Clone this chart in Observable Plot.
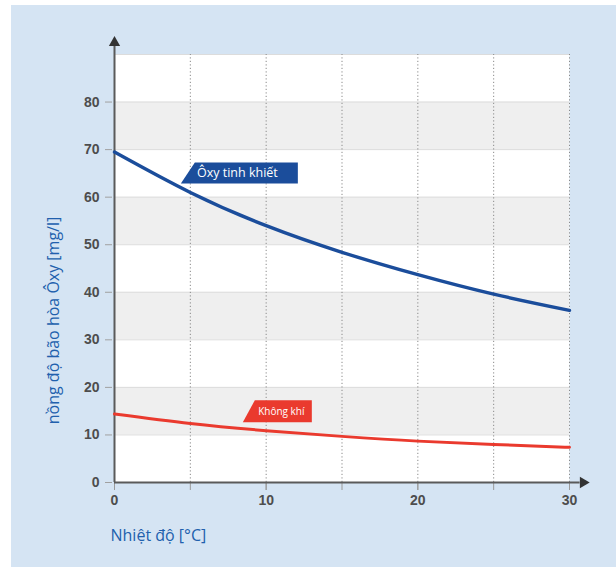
<!DOCTYPE html>
<html><head><meta charset="utf-8">
<script src="https://cdn.jsdelivr.net/npm/d3@7"></script>
<script src="https://cdn.jsdelivr.net/npm/@observablehq/plot@0.6"></script>
<style>
body{margin:0;background:#fff;}
#panel{position:absolute;left:11px;top:5px;width:605px;height:562px;background:#d5e4f3;}
#panel svg{display:block;}
</style></head><body><div id="panel"></div>
<script>
// ---- data ----
const temperature = [0, 5, 10, 15, 20, 25, 30];
const pureOxygen  = [69.5, 61.0, 54.0, 48.4, 43.7, 39.6, 36.2];
const air         = [14.4, 12.4, 10.9, 9.7, 8.7, 8.0, 7.4];
const seriesNames = ["Ôxy tinh khiết", "Không khí"];
const xTicks  = [0, 5, 10, 15, 20, 25, 30];
const xLabels = [0, 10, 20, 30];
const yTicks  = [0, 10, 20, 30, 40, 50, 60, 70, 80];
const gridY   = [10, 20, 30, 40, 50, 60, 70, 80, 90];
const bandLow  = [10, 30, 50, 70];
const bandHigh = [20, 40, 60, 80];
const labelX = [8.1, 11.0];
const labelY = [65.0, 14.9];
const xTitle = "Nhiệt độ [°C]";
const yTitle = "nồng độ bão hòa Ôxy [mg/l]";

// ---- styles ----
const blue = "#1b4d9b", red = "#ea3a2e", axisColor = "#5a5a5a";
const seriesColors = [blue, red];
const bannerShape = [
  {top: -42, tip: -56, right: 61, h: 10.5, size: 12.5},
  {top: -26, tip: -38, right: 31, h: 11, size: 10}
];

const rows = temperature.flatMap((t, i) => [
  {t, v: pureOxygen[i], s: seriesNames[0]},
  {t, v: air[i], s: seriesNames[1]}
]);
const bands = bandLow.map((lo, i) => ({lo, hi: bandHigh[i]}));
const labels = seriesNames.map((text, i) => ({text, x: labelX[i], y: labelY[i], i}));

function bannerMark(index, scales) {
  const g = d3.create("svg:g");
  labels.forEach((d, i) => {
    const cx = scales.x(d.x), cy = scales.y(d.y), s = bannerShape[i];
    g.append("path")
      .attr("d", `M${cx + s.top},${cy - s.h}L${cx + s.right},${cy - s.h}L${cx + s.right},${cy + s.h}L${cx + s.tip},${cy + s.h}Z`)
      .attr("fill", seriesColors[i]);
  });
  return g.node();
}

const tickFont = {fontSize: 14, fontWeight: "bold", fontFamily: "Liberation Sans, Arial, sans-serif"};

const chart = Plot.plot({
  width: 605,
  height: 562,
  marginLeft: 103,
  marginRight: 47,
  marginTop: 49,
  marginBottom: 85,
  style: {background: "transparent", overflow: "visible", fontFamily: "Liberation Sans, Arial, sans-serif"},
  x: {domain: [0, 30]},
  y: {domain: [0, 90]},
  marks: [
    Plot.frame({fill: "white", stroke: null}),
    Plot.rectY(bands, {x1: 0, x2: 30, y1: "lo", y2: "hi", fill: "#efefef"}),
    Plot.ruleY(gridY, {x1: 0, x2: 30, stroke: "#dcdcdc", strokeWidth: 1}),
    Plot.ruleX(xTicks.filter(d => d > 0), {y1: 0, y2: 90, stroke: "#8a8a8a", strokeWidth: 1, strokeDasharray: "1.2,2.3"}),
    Plot.axisY(yTicks, {tickSize: 7, tickPadding: 6, dx: -2, stroke: "#a0a0a0", fill: "#4d4d4d", ...tickFont, label: null}),
    Plot.axisX(xTicks, {tickSize: 8, tickFormat: () => "", stroke: "#9a9a9a", label: null}),
    Plot.axisX(xLabels, {tickSize: 8, tickPadding: 5, stroke: "#9a9a9a", fill: "#4d4d4d", ...tickFont, label: null}),
    Plot.ruleX([0], {y1: 0, y2: 92.2, stroke: axisColor, strokeWidth: 2}),
    Plot.ruleY([0], {x1: 0, x2: 30.7, stroke: axisColor, strokeWidth: 2}),
    Plot.dot([0], {x: 0, y: 92.5, symbol: "triangle", r: 4.2, fill: "#333", stroke: null}),
    Plot.dot([0], {x: 30.9, y: 0, symbol: "triangle", r: 4.2, rotate: 90, fill: "#333", stroke: null}),
    Plot.line(rows.filter(d => d.s === seriesNames[0]), {x: "t", y: "v", curve: "natural", stroke: blue, strokeWidth: 3.4}),
    Plot.line(rows.filter(d => d.s === seriesNames[1]), {x: "t", y: "v", curve: "natural", stroke: red, strokeWidth: 3}),
    bannerMark,
    Plot.text(labels, {x: "x", y: "y", text: "text", fill: "white", fontFamily: "Open Sans, Noto Sans, sans-serif",
      fontSize: d => bannerShape[d.i].size, lineAnchor: "middle", textAnchor: "middle"}),
    Plot.text([yTitle], {frameAnchor: "left", text: d => d, rotate: -90, dx: -61, dy: 52,
      fill: "#2160ad", fontSize: 16, fontFamily: "Open Sans, Noto Sans, sans-serif", textAnchor: "middle", lineAnchor: "middle"}),
    Plot.text([xTitle], {frameAnchor: "bottom-left", text: d => d, dx: -4, dy: 53,
      fill: "#2160ad", fontSize: 16, fontFamily: "Open Sans, Noto Sans, sans-serif", textAnchor: "start", lineAnchor: "middle"})
  ]
});
document.getElementById("panel").appendChild(chart);
</script></body></html>
